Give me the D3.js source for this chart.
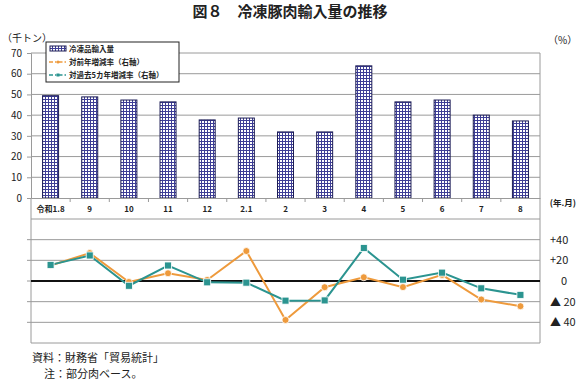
<!DOCTYPE html>
<meta charset="utf-8" />
<body style="margin:0;background:#fff">
  <script src="https://d3js.org/d3.v7.min.js"></script>
  <script>
    // data
    const months = ["令和1.8", "9", "10", "11", "12", "2.1", "2", "3", "4", "5", "6", "7", "8"];
    const imports = [49.4, 48.8, 47.3, 46.4, 37.7, 38.6, 31.9, 31.9, 63.8, 46.4, 47.3, 40.0, 37.2];
    const yoy = [15, 27, -1, 7.5, 1, 29, -37.7, -6, 3.6, -5.9, 5.9, -17.9, -24.4];
    const fiveYr = [15.6, 24.7, -4.6, 15, -1.3, -1.6, -19, -18.8, 31.9, 1.3, 8.1, -7.1, -13.4];
    const leftTicks = [0, 10, 20, 30, 40, 50, 60, 70];
    const rightTicks = [40, 20, 0, -20, -40];

    const W = 577, H = 384;
    const font = "'Noto Sans CJK JP', sans-serif";
    const orange = "#ee9a3c", teal = "#2b9490", grid = "#9a9a9a";

    const svg = d3.select("body").append("svg")
      .attr("width", W).attr("height", H)
      .style("font-family", font);

    // bar pattern
    const pat = svg.append("defs").append("pattern")
      .attr("id", "grid").attr("width", 3).attr("height", 3)
      .attr("patternUnits", "userSpaceOnUse");
    pat.append("rect").attr("width", 3).attr("height", 3).attr("fill", "#fff");
    pat.append("path").attr("d", "M0,0.5H3M0.5,0V3")
      .attr("stroke", "#3e3e96").attr("stroke-width", 1);

    const x = d3.scaleBand().domain(months).range([31, 540]).padding(0);
    const y = d3.scaleLinear().domain([0, 70]).range([198, 53]);
    const y2 = d3.scaleLinear().domain([-60, 60]).range([343, 219]);
    const cx = d => x(d) + x.bandwidth() / 2;

    // title
    svg.append("text").attr("x", 290).attr("y", 17).attr("text-anchor", "middle")
      .attr("font-size", 15).attr("font-weight", "bold").attr("fill", "#222")
      .text("図８　冷凍豚肉輸入量の推移");

    svg.append("text").attr("x", 2).attr("y", 42).attr("font-size", 10).attr("fill", "#222").text("（千トン）");
    svg.append("text").attr("x", 548).attr("y", 44).attr("font-size", 10).attr("fill", "#222").text("（%）");

    // upper gridlines
    svg.append("g").selectAll("line").data(leftTicks.slice(1)).join("line")
      .attr("x1", 31).attr("x2", 540).attr("y1", d => y(d)).attr("y2", d => y(d))
      .attr("stroke", grid).attr("stroke-width", 1);

    // left axis
    const ax = svg.append("g").attr("transform", "translate(31,0)")
      .call(d3.axisLeft(y).tickValues(leftTicks).tickSize(4).tickPadding(5));
    ax.select(".domain").attr("stroke", grid);
    ax.selectAll(".tick line").attr("stroke", grid);
    ax.selectAll("text").attr("font-size", 10).attr("font-family", font).attr("fill", "#222");

    // bars
    svg.append("g").selectAll("rect").data(imports).join("rect")
      .attr("x", (d, i) => cx(months[i]) - 8)
      .attr("width", 16)
      .attr("y", d => y(d))
      .attr("height", d => y(0) - y(d))
      .attr("fill", "url(#grid)")
      .attr("stroke", "#1c1c55").attr("stroke-width", 1);

    // category axis
    const bx = svg.append("g").attr("transform", "translate(0,198)")
      .call(d3.axisBottom(x).tickSize(0).tickPadding(8));
    bx.select(".domain").attr("stroke", grid);
    bx.selectAll("text").attr("font-size", 8).attr("font-weight", "bold")
      .attr("font-family", font).attr("fill", "#222");
    svg.append("g").selectAll("line").data(months.slice(1)).join("line")
      .attr("x1", d => x(d)).attr("x2", d => x(d)).attr("y1", 198).attr("y2", 202)
      .attr("stroke", grid);
    svg.append("text").attr("x", 576).attr("y", 206).attr("text-anchor", "end")
      .attr("font-size", 8.5).attr("font-weight", "bold")
      .attr("fill", "#222").text("(年.月)");

    // lower panel gridlines
    svg.append("g").selectAll("line").data([60, 40, 20, -20, -40, -60]).join("line")
      .attr("x1", 31).attr("x2", 540).attr("y1", d => y2(d)).attr("y2", d => y2(d))
      .attr("stroke", grid).attr("stroke-width", 1);
    svg.append("g").selectAll("line").data([40, 20, 0, -20, -40]).join("line")
      .attr("x1", 27).attr("x2", 31).attr("y1", d => y2(d)).attr("y2", d => y2(d))
      .attr("stroke", grid);

    // frame verticals
    svg.append("line").attr("x1", 31).attr("x2", 31).attr("y1", 198).attr("y2", 343).attr("stroke", grid);
    svg.append("line").attr("x1", 540).attr("x2", 540).attr("y1", 53).attr("y2", 343).attr("stroke", grid);

    // zero line
    svg.append("line").attr("x1", 31).attr("x2", 540).attr("y1", y2(0)).attr("y2", y2(0))
      .attr("stroke", "#111").attr("stroke-width", 2);

    // right axis labels
    svg.append("g").selectAll("text").data(rightTicks).join("text")
      .attr("x", 550).attr("y", d => y2(d) + 4).attr("font-size", 11).attr("fill", "#222")
      .text(d => d > 0 ? "+" + d : d === 0 ? "　0" : "▲ " + (-d));

    const line = d3.line().x((d, i) => cx(months[i])).y(d => y2(d));
    svg.append("path").datum(yoy).attr("d", line)
      .attr("fill", "none").attr("stroke", orange).attr("stroke-width", 2);
    svg.append("g").selectAll("circle").data(yoy).join("circle")
      .attr("cx", (d, i) => cx(months[i])).attr("cy", d => y2(d)).attr("r", 3.5)
      .attr("fill", orange).attr("stroke", "#fff").attr("stroke-width", 0.8);
    svg.append("path").datum(fiveYr).attr("d", line)
      .attr("fill", "none").attr("stroke", teal).attr("stroke-width", 2);
    svg.append("g").selectAll("rect").data(fiveYr).join("rect")
      .attr("x", (d, i) => cx(months[i]) - 3.5).attr("y", d => y2(d) - 3.5)
      .attr("width", 7).attr("height", 7)
      .attr("fill", teal).attr("stroke", "#fff").attr("stroke-width", 0.8);

    // legend
    const lg = svg.append("g").attr("transform", "translate(46,42)");
    lg.append("rect").attr("width", 133).attr("height", 40).attr("fill", "#fff")
      .attr("stroke", "#222").attr("stroke-width", 1);
    lg.append("rect").attr("x", 4).attr("y", 4).attr("width", 16).attr("height", 5)
      .attr("fill", "url(#grid)").attr("stroke", "#1c1c55");
    const items = [["冷凍品輸入量", null], ["対前年増減率（右軸）", orange], ["対過去5カ年増減率（右軸）", teal]];
    items.forEach((it, i) => {
      const yy = 7 + i * 13;
      if (it[1]) {
        lg.append("line").attr("x1", 3).attr("x2", 21).attr("y1", yy).attr("y2", yy)
          .attr("stroke", it[1]).attr("stroke-width", 1.5).attr("stroke-dasharray", "4,2,1.5,2");
        if (i === 1) lg.append("circle").attr("cx", 12).attr("cy", yy).attr("r", 1.6).attr("fill", it[1]);
        else lg.append("rect").attr("x", 10.5).attr("y", yy - 1.5).attr("width", 3).attr("height", 3).attr("fill", it[1]);
      }
      lg.append("text").attr("x", 23).attr("y", yy + 3).attr("font-size", 7.5).attr("font-weight", "bold")
        .attr("fill", "#222").text(it[0]);
    });

    // notes
    svg.append("text").attr("x", 32).attr("y", 362).attr("font-size", 11).attr("fill", "#222").text("資料：財務省「貿易統計」");
    svg.append("text").attr("x", 44).attr("y", 378).attr("font-size", 11).attr("fill", "#222").text("注：部分肉ベース。");
  </script>
</body>
